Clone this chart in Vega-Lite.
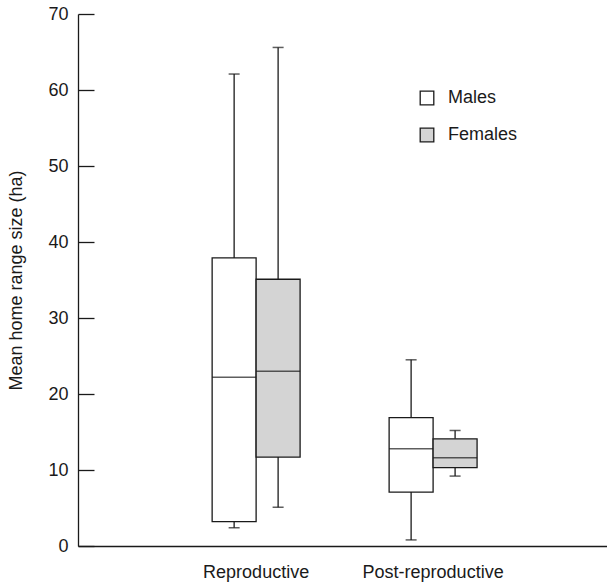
{
  "$schema": "https://vega.github.io/schema/vega-lite/v6.json",
  "autosize": "none",
  "padding": {"left": 78, "top": 14, "right": 0, "bottom": 39},
  "width": 529,
  "height": 532,
  "config": {
    "view": {"stroke": null},
    "font": "Liberation Sans",
    "axis": {"labelFont": "Liberation Sans", "titleFont": "Liberation Sans", "labelColor": "#1a1a1a", "titleColor": "#1a1a1a", "grid": false, "domainColor": "#1a1a1a", "tickColor": "#1a1a1a"}
  },
  "data": {
    "values": [
      {"group": "Reproductive", "sex": "Males", "min": 2.4, "q1": 3.2, "median": 22.2, "q3": 37.9, "max": 62.1},
      {"group": "Reproductive", "sex": "Females", "min": 5.1, "q1": 11.7, "median": 23.0, "q3": 35.1, "max": 65.6},
      {"group": "Post-reproductive", "sex": "Males", "min": 0.8, "q1": 7.1, "median": 12.8, "q3": 16.9, "max": 24.5},
      {"group": "Post-reproductive", "sex": "Females", "min": 9.2, "q1": 10.3, "median": 11.6, "q3": 14.1, "max": 15.2}
    ]
  },
  "encoding": {
    "x": {
      "field": "group", "type": "nominal", "sort": ["Reproductive", "Post-reproductive"],
      "scale": {"paddingInner": 0.503, "paddingOuter": 0.746, "align": 0.508},
      "axis": {"title": null, "labelAngle": 0, "ticks": false, "labelFontSize": 18, "labelPadding": 17, "domainWidth": 1.3}
    },
    "xOffset": {"field": "sex", "type": "nominal", "sort": ["Males", "Females"], "scale": {"paddingInner": 0, "paddingOuter": 0}}
  },
  "layer": [
    {
      "mark": {"type": "rule", "stroke": "#1a1a1a", "strokeWidth": 1.3},
      "encoding": {
        "y": {"field": "q3", "type": "quantitative", "scale": {"domain": [0, 70]},
          "axis": {"title": "Mean home range size (ha)", "titleFontSize": 18, "titleFontWeight": "normal", "titlePadding": 22, "labelFontSize": 18, "tickSize": -16, "tickWidth": 1.3, "domainWidth": 1.3, "labelPadding": 26, "values": [0, 10, 20, 30, 40, 50, 60, 70]}},
        "y2": {"field": "max"}
      }
    },
    {
      "mark": {"type": "rule", "stroke": "#1a1a1a", "strokeWidth": 1.3},
      "encoding": {"y": {"field": "min", "type": "quantitative"}, "y2": {"field": "q1"}}
    },
    {
      "mark": {"type": "bar", "stroke": "#1a1a1a", "strokeWidth": 1.3},
      "encoding": {
        "y": {"field": "q1", "type": "quantitative"},
        "y2": {"field": "q3"},
        "fill": {
          "field": "sex", "type": "nominal",
          "scale": {"domain": ["Males", "Females"], "range": ["#ffffff", "#d4d4d4"]},
          "legend": {"title": null, "orient": "none", "legendX": 340, "legendY": 75, "symbolType": "square", "symbolSize": 185, "symbolStrokeColor": "#1a1a1a", "symbolStrokeWidth": 1.3, "labelFontSize": 18, "labelColor": "#1a1a1a", "rowPadding": 17, "labelOffset": 12}
        }
      }
    },
    {
      "mark": {"type": "tick", "orient": "horizontal", "color": "#1a1a1a", "size": 44, "thickness": 1.5},
      "encoding": {"y": {"field": "median", "type": "quantitative"}}
    },
    {
      "mark": {"type": "tick", "orient": "horizontal", "color": "#1a1a1a", "size": 11, "thickness": 1.5},
      "encoding": {"y": {"field": "max", "type": "quantitative"}}
    },
    {
      "mark": {"type": "tick", "orient": "horizontal", "color": "#1a1a1a", "size": 11, "thickness": 1.5},
      "encoding": {"y": {"field": "min", "type": "quantitative"}}
    }
  ]
}
